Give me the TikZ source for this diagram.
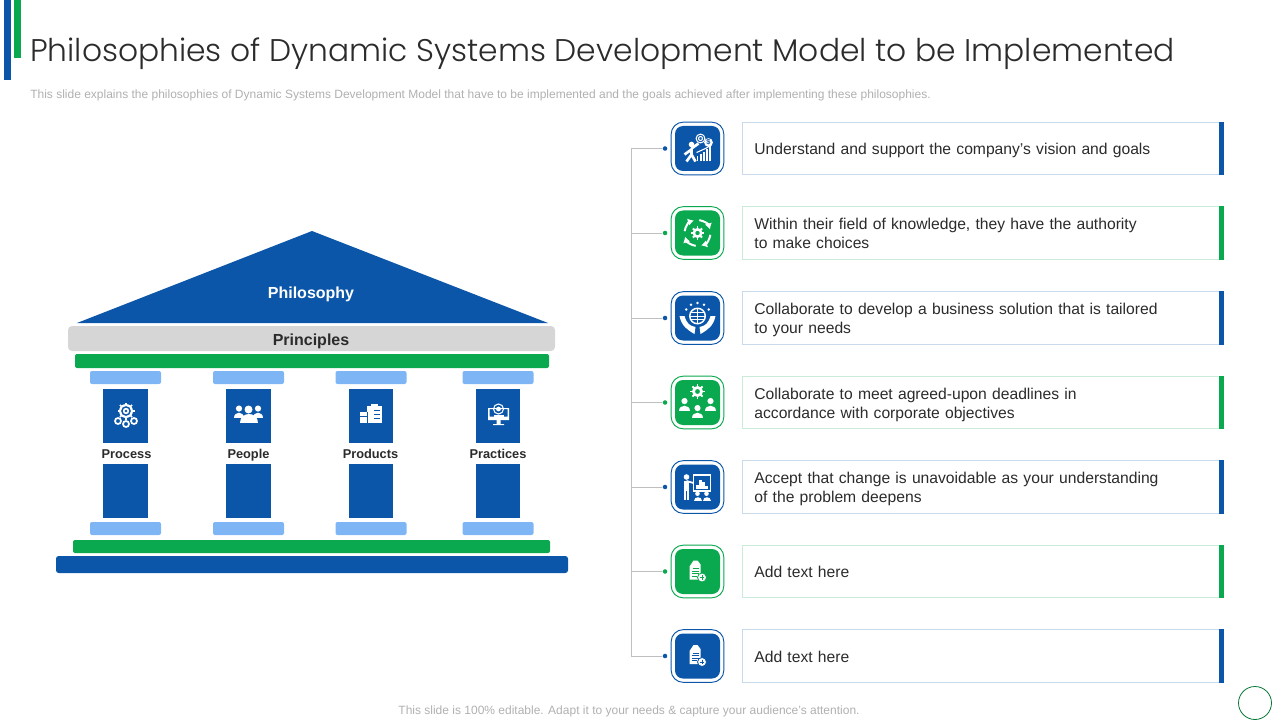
\documentclass[tikz,border=0pt]{standalone}
\usepackage{fontspec}
\setmainfont{Liberation Sans}
\newfontfamily\titlefont{Poppins Light}
\usetikzlibrary{arrows.meta}
\definecolor{sysblue}{HTML}{0B56A8}
\definecolor{sysgreen}{HTML}{0AA84F}
\definecolor{syssky}{HTML}{7DB5F5}
\definecolor{sysgrey}{HTML}{D6D6D6}
\definecolor{sysink}{HTML}{2B2B2B}
\definecolor{sysnote}{HTML}{B0B0B0}
\tikzset{
	blueblock/.style={fill=sysblue},
	greenblock/.style={fill=sysgreen,rounded corners=1.5pt},
	skyblock/.style={fill=syssky,rounded corners=1.5pt},
	glyph/.style={draw=white,line width=0.8pt,fill=none},
	itembox/.style={draw=#1!22,line width=0.6pt,minimum width=361pt,minimum height=39.25pt,
		inner xsep=8.6pt,inner ysep=0pt,text width=343pt,align=left,anchor=west,
		font=\fontsize{11.75}{14.25}\selectfont,text=sysink},
	iconframe/.style={draw=#1,fill=white,line width=0.7pt,rounded corners=9pt,minimum size=39.5pt,inner sep=0pt},
	iconcore/.style={fill=#1,rounded corners=6pt,minimum size=33.75pt,inner sep=0pt},
	pillarlabel/.style={font=\fontsize{9.6}{12}\bfseries\selectfont,text=sysink},
	person/.pic={
		\fill[white] (0,-3.3) circle (2.3);
		\fill[white] (-4,3.8) .. controls (-4,-1.4) and (4,-1.4) .. (4,3.8) -- cycle;
	},
	gearwheel/.pic={
		\fill[white,even odd rule] (0,0) circle (4.8) (0,0) circle (2.2);
		\foreach \a in {0,45,...,315}{\draw[white,line width=1.4pt] (\a:4) -- (\a:6.2);}
	},
	growth/.pic={
		\draw[glyph] (3,-10) circle (4.4) (3,-10) circle (2);
		\fill[white] (11,-6) circle (4.4);
		\node[sysblue,font=\fontsize{5.5}{6}\bfseries\selectfont,inner sep=0pt] (dollar) at (11,-6) {\$};
		\fill[white] (-6,-4) circle (2.8);
		\draw[white,line width=2pt] (-6,0) -- (-6,6) -- (-11,13) (-6,6) -- (-2,13) (-6,1) -- (-13,6) (-6,0) -- (1,-5);
		\foreach \x/\h in {0/5,3.2/7,6.4/9,9.6/12,12.8/15}{\draw[white,line width=1.3pt] (\x,13) -- (\x,13-\h);}
		\draw[glyph] (-1,4) -- (8,0) -- (13,-3);
	},
	cycle gear/.pic={
		\pic[scale=1.05] {gearwheel};
		\foreach \a in {0,90,180,270}{
			\draw[glyph,line width=1.5pt,-{Latex[length=4.5pt,width=5.5pt]}] ({\a+8}:13) arc ({\a+8}:{\a+74}:13);
		}
	},
	care globe/.pic={
		\fill[white,even odd rule] (0,-2) circle (8.5) (0,-2) circle (7);
		\draw[glyph,line width=0.6pt] (-8,-2) -- (8,-2) (0,-10) -- (0,6) (-7,-5.5) -- (7,-5.5) (-7,1.5) -- (7,1.5);
		\foreach \a in {-150,-120,-90,-60,-30}{\fill[white] (0,-2)+(\a:13) circle (1.4);}
		\fill[white] (-18,-2) .. controls (-16,8) and (-10,12) .. (-3,16) -- (-2,9) .. controls (-8,8) and (-11,5) .. (-13,-2) -- cycle;
		\fill[white] (18,-2) .. controls (16,8) and (10,12) .. (3,16) -- (2,9) .. controls (8,8) and (11,5) .. (13,-2) -- cycle;
	},
	team gear/.pic={
		\pic[scale=1.15] at (0,-11) {gearwheel};
		\pic[scale=1.35] at (-13,3) {person};
		\pic[scale=1.35] at (13,3) {person};
		\pic[scale=1.35] at (0,10) {person};
	},
	board/.pic={
		\draw[glyph,line width=1pt] (-4,-12) rectangle (13,4);
		\foreach \x/\h in {0/4,3/9,6/7,9/3}{\draw[white,line width=2pt] (\x,2) -- (\x,2-\h);}
		\fill[white] (-11,-10) circle (2.8);
		\draw[white,line width=3.2pt] (-11,-6) -- (-11,4);
		\draw[white,line width=1.3pt] (-11,-6) -- (-4,-4);
		\draw[white,line width=1.6pt] (-12.5,4) -- (-12.5,13) (-9.5,4) -- (-9.5,13);
		\pic[scale=1] at (0,10) {person};
		\pic[scale=1] at (9,10) {person};
	},
	note plus/.pic={
		\fill[white] (-4,-11) -- (0,-11) -- (3,-7) -- (3,8) -- (-8,8) -- (-8,-5) -- cycle;
		\draw[#1,line width=0.5pt] (-5,-3) -- (1,-3) (-6,-0.5) -- (1,-0.5) (-6,2) -- (1,2) (-6,4.5) -- (-1,4.5);
		\draw[draw=#1,fill=white,line width=0.6pt] (4.5,6) circle (4.5);
		\draw[#1,line width=0.7pt] (2.2,6) -- (6.8,6) (4.5,3.7) -- (4.5,8.3);
	},
	cog trio/.pic={
		\fill[white,even odd rule] (0,-4) circle (7) (0,-4) circle (5) (0,-4) circle (3.2) (0,-4) circle (1.6);
		\foreach \a in {0,45,...,315}{\draw[white,line width=1.2pt] (0,-4)+(\a:6.5) -- +(\a:8.5);}
		\foreach \p in {(-8,6),(0,9),(8,6)}{\draw[glyph,line width=1.3pt] \p circle (3);}
	},
	crowd/.pic={
		\pic[scale=1.35] at (-9.5,-1) {person};
		\pic[scale=1.35] at (9.5,-1) {person};
		\fill[white] (0,-4.5) circle (4);
		\fill[white] (-9,9) .. controls (-9,-3) and (9,-3) .. (9,9) -- cycle;
	},
	clipboard/.pic={
		\fill[white] (-4,-8) rectangle (11,9);
		\fill[white] (0,-10) rectangle (7,-7);
		\draw[sysblue,line width=0.6pt] (3,-4) -- (9,-4) (3,0) -- (9,0) (3,4) -- (9,4);
		\draw[sysblue,line width=0.8pt] (-4,-2) -- (-4,9);
		\fill[white] (-11,-2) rectangle (-4,9);
		\draw[sysblue,line width=0.5pt] (-11,2) -- (-4,2);
	},
	monitor/.pic={
		\fill[white,even odd rule] (-10.5,-6) rectangle (10.5,6) (-9,-5) rectangle (9,2.5);
		\fill[white] (-2,6) rectangle (2,10) (-5.5,10) rectangle (5.5,11);
		\draw[glyph] (0,-5) circle (5);
		\fill[white] (0,-5) circle (2.4);
		\fill[white] (-5,3) rectangle (5,0.5);
	}
}
\begin{document}
\begin{tikzpicture}[x=0.75pt,y=-0.75pt]
	\useasboundingbox (0,0) rectangle (1280,720);
	% header
	\fill[sysblue] (4,0) rectangle (11,80);
	\fill[sysgreen] (14,0) rectangle (21,58);
	\node[anchor=base west,inner sep=0pt,text=sysink,font=\titlefont\fontsize{23.5}{28}\selectfont] (title) at (30,62) {Philosophies of Dynamic Systems Development Model to be Implemented};
	\node[anchor=west,inner sep=0pt,text=sysnote,font=\fontsize{9}{11}\selectfont] (subtitle) at (30,95) {This slide explains the philosophies of Dynamic Systems Development Model that have to be implemented and the goals achieved after implementing these philosophies.};
	% temple
	\path
	(312,231) coordinate (Roof)
	(77,323) coordinate (RoofL)
	(548,323) coordinate (RoofR);
	\fill[sysblue] (Roof) -- (RoofR) -- (RoofL) -- cycle;
	\node[anchor=base,font=\fontsize{12}{14}\bfseries\selectfont,text=white,inner sep=0pt] (philosophy) at (311,298) {Philosophy};
	\fill[sysgrey,rounded corners=3pt] (68,326) rectangle (555,351);
	\node[anchor=base,font=\fontsize{12}{14}\bfseries\selectfont,text=sysink,inner sep=0pt] (principles) at (311,345) {Principles};
	\fill[greenblock] (75,354) rectangle (549,368);
	\fill[greenblock] (73,540) rectangle (550,553);
	\fill[blueblock,rounded corners=2pt] (56,556) rectangle (568,573);
	\foreach \x/\w/\c/\name in {125.5/22.5/126.5/Process,248.5/22.5/248.5/People,371/22/370.5/Products,498/22/498/Practices}{
		\fill[skyblock] (\x-35.5,371) rectangle (\x+35.5,384);
		\fill[skyblock] (\x-35.5,522) rectangle (\x+35.5,535);
		\fill[blueblock] (\x-\w,389) rectangle (\x+\w,443);
		\fill[blueblock] (\x-\w,464) rectangle (\x+\w,518);
		\node[anchor=base,pillarlabel,inner sep=0pt] (label\name) at (\c,458) {\name};
	}
	\pic at (126,415) {cog trio};
	\pic at (248.5,414) {crowd};
	\pic at (371,414) {clipboard};
	\pic at (498.5,414) {monitor};
	% philosophies
	\foreach \i/\y/\col/\text in {
		1/148.5/sysblue/{Understand and support the company's vision and goals},
		2/233/sysgreen/{Within their field of knowledge, they have the authority\\to make choices},
		3/318/sysblue/{Collaborate to develop a business solution that is tailored\\to your needs},
		4/402.5/sysgreen/{Collaborate to meet agreed-upon deadlines in\\accordance with corporate objectives},
		5/487/sysblue/{Accept that change is unavoidable as your understanding\\of the problem deepens},
		6/571.5/sysgreen/{Add text here},
		7/656/sysblue/{Add text here}
	}{
		\coordinate (trunk\i) at (631,\y);
		\node[itembox=\col] (item\i) at (742,\y) {\rule{0pt}{13.4pt}\text\strut};
		\fill[\col] (item\i.north east) ++(-3.5pt,0) rectangle (item\i.south east);
		\node[iconframe=\col] (frame\i) at (697.5,\y) {};
		\node[iconcore=\col] (icon\i) at (697.5,\y) {};
		\node[circle,fill=\col,minimum size=3.4pt,inner sep=0pt] (dot\i) at (665,\y) {};
		\draw[draw=black!25!white,line width=0.5pt] (trunk\i) -- (dot\i);
	}
	\draw[draw=black!25!white,line width=0.5pt] (trunk1) -- (trunk7);
	\pic at (icon1) {growth};
	\pic at (icon2) {cycle gear};
	\pic at (icon3) {care globe};
	\pic at (icon4) {team gear};
	\pic at (icon5) {board};
	\pic at (icon6) {note plus=sysgreen};
	\pic at (icon7) {note plus=sysblue};
	% footer
	\node[text=sysnote,inner sep=0pt,font=\fontsize{9}{11}\selectfont] (footer) at (629,711) {This slide is 100\% editable. Adapt it to your needs \& capture your audience's attention.};
	\draw[sysgreen!70!black,line width=0.6pt] (1255,703) circle (16.5);
\end{tikzpicture}
\end{document}
